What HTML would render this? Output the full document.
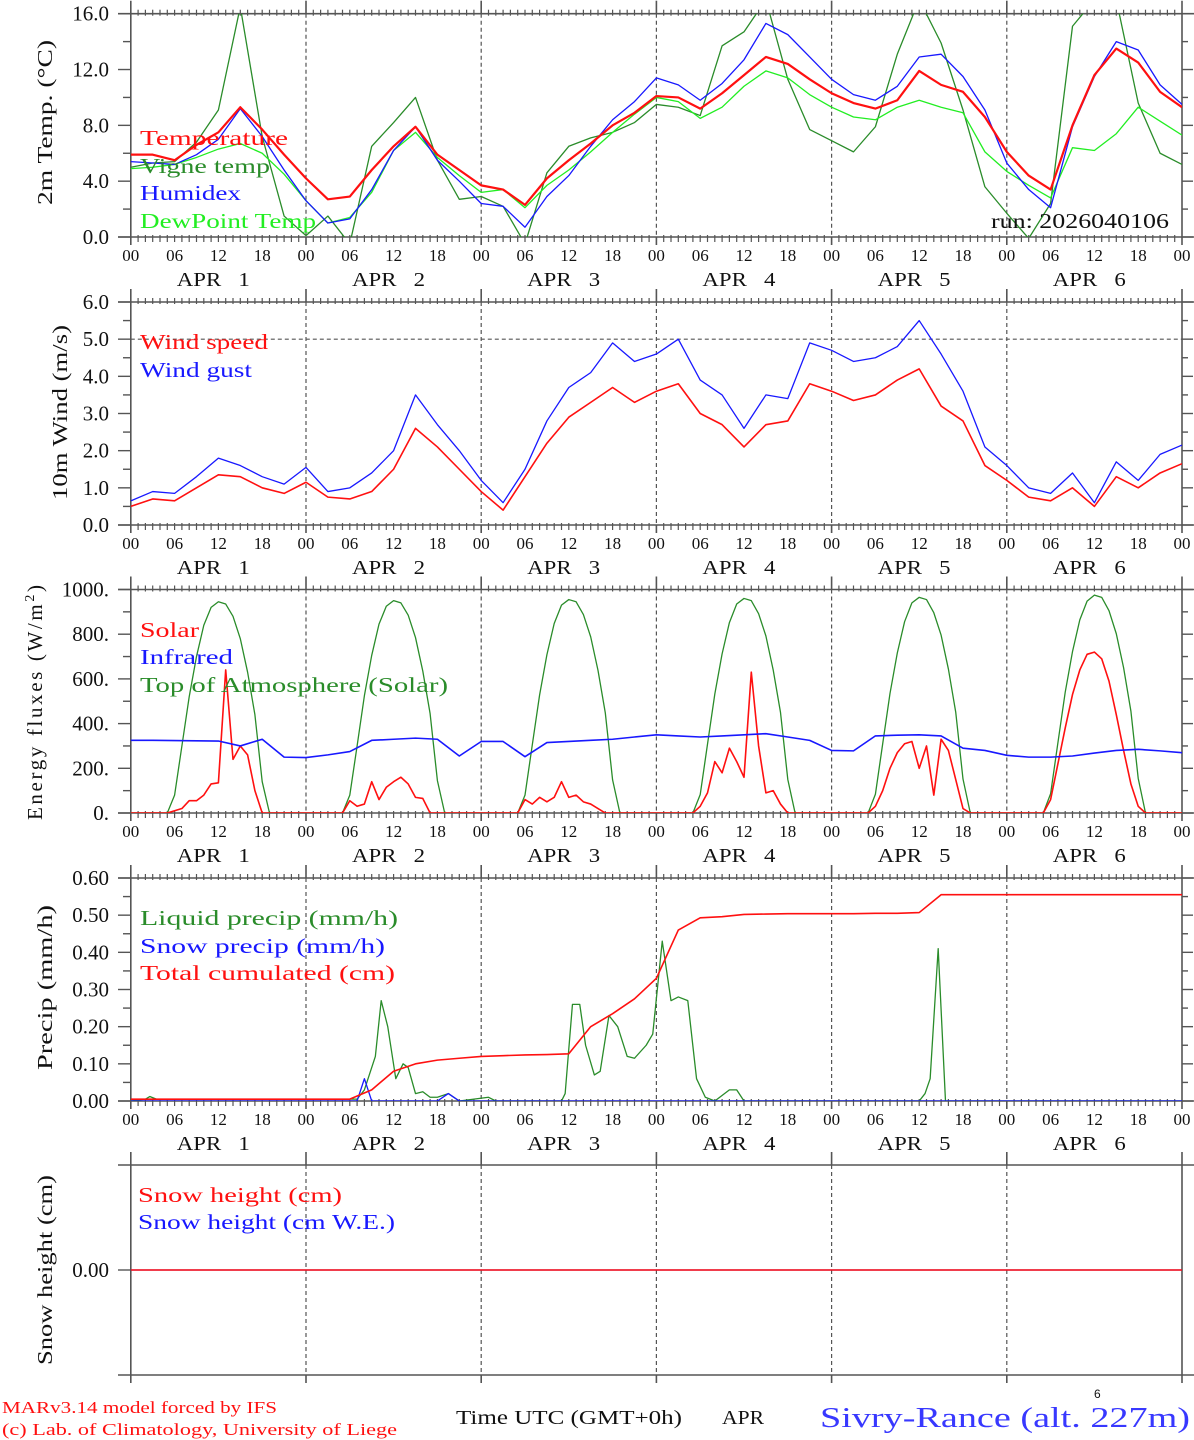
<!DOCTYPE html>
<html><head><meta charset="utf-8"><style>
html,body{margin:0;padding:0;background:#fff;}
svg{display:block;font-family:"Liberation Serif",serif;}
text{white-space:pre;}
</style></head><body>
<svg id="chart" width="1194" height="1440" viewBox="0 0 1194 1440" xmlns="http://www.w3.org/2000/svg"></svg>
<script>
// ---------- DATA (3-hourly, hour 0 .. 144) ----------
const tempVals = [5.9,5.9,5.5,6.6,7.5,9.3,7.7,5.9,4.2,2.7,2.9,4.8,6.5,7.9,5.9,4.8,3.7,3.4,2.3,4.2,5.5,6.7,8.0,8.9,10.1,10.0,9.2,10.3,11.6,12.9,12.4,11.3,10.3,9.6,9.2,9.8,11.9,10.9,10.4,8.6,6.1,4.4,3.4,8.0,11.6,13.5,12.5,10.4,9.3];
const vigneVals = [5.0,5.3,5.4,6.8,9.1,16.5,7.2,1.5,0.1,1.5,-0.5,6.5,8.2,10.0,5.5,2.7,2.9,2.2,-0.5,4.6,6.5,7.1,7.5,8.2,9.5,9.3,8.7,13.7,14.7,17.0,11.3,7.7,6.9,6.1,7.9,13.1,17.0,13.9,9.1,3.6,1.7,-0.1,2.4,15.1,17.0,17.0,9.6,6.0,5.2];
const humidexVals = [5.4,5.3,5.2,5.9,7.0,9.2,7.2,4.8,2.6,1.0,1.3,3.4,6.2,7.9,5.5,4.0,2.4,2.2,0.7,2.9,4.4,6.5,8.4,9.7,11.4,10.9,9.8,11.0,12.7,15.3,14.5,12.9,11.3,10.2,9.8,10.8,12.9,13.1,11.5,9.1,5.3,3.4,2.1,7.9,11.5,14.0,13.4,10.9,9.5];
const dewVals = [4.9,5.0,5.2,5.7,6.3,6.7,6.0,4.5,2.6,1.0,1.4,3.2,6.2,7.5,5.7,4.4,3.2,3.4,2.1,3.7,4.8,6.1,7.5,8.8,10.0,9.7,8.5,9.3,10.8,11.9,11.4,10.2,9.3,8.6,8.4,9.3,9.8,9.3,8.9,6.1,4.7,3.7,2.8,6.4,6.2,7.4,9.3,8.3,7.3];
const windSpeedVals = [0.5,0.7,0.65,1.0,1.35,1.3,1.0,0.85,1.15,0.75,0.7,0.9,1.5,2.6,2.1,1.5,0.9,0.4,1.3,2.2,2.9,3.3,3.7,3.3,3.6,3.8,3.0,2.7,2.1,2.7,2.8,3.8,3.6,3.35,3.5,3.9,4.2,3.2,2.8,1.6,1.2,0.75,0.65,1.0,0.5,1.3,1.0,1.4,1.65];
const windGustVals = [0.65,0.9,0.85,1.3,1.8,1.6,1.3,1.1,1.55,0.9,1.0,1.4,2.0,3.5,2.7,2.0,1.2,0.6,1.5,2.8,3.7,4.1,4.9,4.4,4.6,5.0,3.9,3.5,2.6,3.5,3.4,4.9,4.7,4.4,4.5,4.8,5.5,4.6,3.6,2.1,1.6,1.0,0.85,1.4,0.6,1.7,1.2,1.9,2.15];
const infraredVals = [325,325,324,323,322,300,330,250,248,260,275,325,330,335,330,255,320,320,252,315,320,325,330,340,350,345,340,345,350,355,340,325,280,278,345,348,350,345,290,280,258,250,250,255,268,280,285,278,270];
const totalCumVals = [0.005,0.005,0.005,0.005,0.005,0.005,0.005,0.005,0.005,0.005,0.005,0.03,0.08,0.1,0.11,0.115,0.12,0.122,0.124,0.125,0.127,0.2,0.235,0.275,0.33,0.46,0.493,0.496,0.502,0.503,0.504,0.504,0.504,0.504,0.505,0.505,0.507,0.555,0.555,0.555,0.555,0.555,0.555,0.555,0.555,0.555,0.555,0.555,0.555];
// ---------- DATA (hourly daytime 05..19 for each day) ----------
const toaDay1 = [0,80,300,520,700,840,920,945,935,880,780,630,440,140,0];
const toaDay2 = [0,80,300,525,705,845,925,950,940,885,785,635,445,145,0];
const toaDay3 = [0,80,305,528,708,848,930,955,945,888,788,638,448,148,0];
const toaDay4 = [0,82,308,532,712,852,935,960,950,892,792,640,450,150,0];
const toaDay5 = [0,84,310,535,716,856,940,965,955,896,796,644,452,152,0];
const toaDay6 = [0,86,314,540,722,864,948,975,965,905,802,650,456,155,0];
const solarDay1 = [0,10,20,55,55,80,130,135,640,240,300,260,100,0,0];
const solarDay2 = [0,55,30,40,140,60,115,140,160,130,70,65,0,0,0];
const solarDay3 = [0,60,40,70,50,70,140,70,80,50,40,20,0,0,0];
const solarDay4 = [0,30,90,230,180,290,230,160,630,300,90,100,40,0,0];
const solarDay5 = [0,30,100,200,270,310,320,200,300,80,330,280,150,20,0];
const solarDay6 = [0,60,220,380,530,640,710,720,690,590,440,280,130,30,0];
// ---------- DATA (irregular points) ----------
const liquidHours = [0,2,2.6,3.5,5,31,32,33.5,34.3,35.2,36.3,37.3,38,39,40,41,42,43.5,45,49,50,59,59.5,60.5,61.5,62.3,63.5,64.3,65.5,66.7,68,69,70.6,71.5,72.8,74,75,76.3,77.5,78.7,80,82,83,84,85,108,108.8,109.5,110.6,111.6,144];
const liquidVals = [0,0.005,0.012,0.005,0.005,0.005,0.03,0.12,0.27,0.2,0.06,0.1,0.09,0.02,0.025,0.01,0.01,0.02,0,0.01,0,0,0.02,0.26,0.26,0.15,0.07,0.08,0.23,0.2,0.12,0.115,0.15,0.18,0.43,0.27,0.28,0.27,0.06,0.01,0,0.03,0.03,0,0,0,0.02,0.06,0.41,0,0];
const snowPrecipHours = [0,31,32,33,42,43.5,45,144];
const snowPrecipVals = [0,0,0.06,0,0,0.02,0,0];
const snowHeightVals = [0,0];
const snowHeightHours = [0,144];
const hourTickLabels = ["00","06","12","18"];
const dayLabels = ["APR\u00a0\u00a0\u00a01","APR\u00a0\u00a0\u00a02","APR\u00a0\u00a0\u00a03","APR\u00a0\u00a0\u00a04","APR\u00a0\u00a0\u00a05","APR\u00a0\u00a0\u00a06"];

// ---------- helpers ----------
const NS = "http://www.w3.org/2000/svg";
const svg = document.getElementById('chart');
const X0 = 130.8, PXH = 7.3, XR = X0 + 144 * PXH;
function xs(h){ return X0 + h * PXH; }
function mk(tag, attrs, parent){
  const e = document.createElementNS(NS, tag);
  for (const k in attrs) e.setAttribute(k, attrs[k]);
  (parent || svg).appendChild(e);
  return e;
}
function line(x1,y1,x2,y2,stroke,w,dash,name){
  const e = mk('line',{x1:x1,y1:y1,x2:x2,y2:y2,stroke:stroke,'stroke-width':w});
  if (dash) e.setAttribute('stroke-dasharray', dash);
  
  
  return e;
}
function text(str,x,y,opts,name){
  const e = mk('text',{x:x,y:y,'font-size':opts.size||19,fill:opts.fill||'#111'});
  if (opts.anchor) e.setAttribute('text-anchor', opts.anchor);
  if (opts.len){ e.setAttribute('textLength', opts.len); e.setAttribute('lengthAdjust','spacingAndGlyphs'); }
  if (opts.family) e.setAttribute('font-family', opts.family);
  if (opts.rot) e.setAttribute('transform', 'rotate(-90 ' + x + ' ' + y + ')');
  e.textContent = str;
  
  
  return e;
}
function series3(vals){ return vals.map((v,i)=>[i*3, v]); }
function seriesXY(hs, vals){ return hs.map((h,i)=>[h, vals[i]]); }
function seriesDays(days, startHour){
  const pts = [[0,0]];
  days.forEach((d,di)=>{ d.forEach((v,j)=>{ pts.push([di*24 + startHour + j, v]); }); });
  pts.push([144,0]);
  return pts;
}
let clipId = 0;
function drawPanel(p){
  const yv = v => p.bot - (v - p.min) / (p.max - p.min) * (p.bot - p.top);
  p.yv = yv;
  line(118, p.top, 1194, p.top, '#555', 1.6, null, p.name + '-top-frame');
  line(118, p.bot, 1194, p.bot, '#555', 1.6, null, p.name + '-x-axis');
  line(X0, p.top - 13, X0, p.bot + 8, '#555', 1.6, null, p.name + '-y-axis');
  line(XR, p.top - 13, XR, p.bot + 8, '#555', 1.6, null, p.name + '-right-axis');
  for (let d = 1; d < 6; d++){
    const x = xs(d*24);
    line(x, p.top, x, p.bot, '#555', 1.2, '4 3', p.name + '-day-divider');
    line(x, p.top - 13, x, p.top, '#555', 1.6, null, p.name + '-day-tick-top');
    line(x, p.bot, x, p.bot + 8, '#555', 1.6, null, p.name + '-day-tick-bottom');
  }
  if (p.hourTicks){
    for (let h = 1; h < 144; h++){
      if (h % 24 === 0) continue;
      line(xs(h), p.top - 4, xs(h), p.top + 2, '#555', 1.2, null, p.name + '-hour-tick-top');
      line(xs(h), p.bot - 2, xs(h), p.bot + 5, '#555', 1.2, null, p.name + '-hour-tick-bottom');
    }
    for (let h = 0; h <= 144; h += 6){
      text(hourTickLabels[(h/6) % 4], xs(h), p.bot + 24, {size:17, anchor:'middle'}, p.name + '-hour-label');
    }
    for (let d = 0; d < 6; d++){
      text(dayLabels[d], xs(d*24) + 46, p.bot + 49, {size:20, len:73}, p.name + '-day-label');
    }
  }
  if (p.minor){
    const n = Math.round((p.max - p.min) / p.minor);
    for (let i = 0; i <= n; i++){
      const v = p.min + i * p.minor;
      const y = yv(v);
      const isMajor = Math.abs(v / p.major - Math.round(v / p.major)) < 1e-6;
      line(isMajor ? 118 : 123, y, X0, y, '#555', 1.4, null, p.name + '-y-tick');
      line(XR, y, isMajor ? 1193 : 1188, y, '#555', 1.4, null, p.name + '-y-tick-right');
      if (isMajor) text(p.fmt(v), 109, y + 7, {size:21, anchor:'end'}, p.name + '-y-tick-label');
    }
  }
  clipId++;
  const defs = mk('defs',{});
  const cp = mk('clipPath',{id:'clip'+clipId}, defs);
  mk('rect',{x:X0, y:p.top, width:XR-X0, height:p.bot-p.top}, cp);
  p.clip = 'url(#clip'+clipId+')';
  return p;
}
function drawSeries(p, pts, color, w, name){
  const d = pts.map((pt,i)=>(i?'L':'M') + xs(pt[0]).toFixed(2) + ' ' + p.yv(pt[1]).toFixed(2)).join(' ');
  const e = mk('path',{d:d, fill:'none', stroke:color, 'stroke-width':w, 'stroke-linejoin':'round', 'clip-path':p.clip});
  
  
  return e;
}

const RED = '#ff1010', BLUE = '#1818ff', DKG = '#2a8c2a', LTG = '#22ee22';

const pT = drawPanel({name:'temperature', top:13.7, bot:237, min:0, max:16, major:4, minor:2, hourTicks:true, fmt:v=>v.toFixed(1)});
drawSeries(pT, series3(vigneVals), DKG, 1.3, 'vigne-temp-line');
drawSeries(pT, series3(dewVals), LTG, 1.3, 'dewpoint-line');
drawSeries(pT, series3(humidexVals), BLUE, 1.3, 'humidex-line');
drawSeries(pT, series3(tempVals), RED, 2.2, 'temperature-line');
text('2m Temp. (°C)', 52, 205, {size:21, rot:true, len:165}, 'temperature-y-axis-title');
text('Temperature', 140, 145, {size:21, fill:RED, len:148}, 'legend-temperature');
text('Vigne temp', 140, 173, {size:21, fill:DKG, len:130}, 'legend-vigne-temp');
text('Humidex', 140, 200, {size:21, fill:BLUE, len:101}, 'legend-humidex');
text('DewPoint Temp', 140, 228, {size:21, fill:LTG, len:176}, 'legend-dewpoint');
text('run: 2026040106', 991, 228, {size:21, len:178}, 'run-label');

const pW = drawPanel({name:'wind', top:302, bot:525, min:0, max:6, major:1, minor:0.5, hourTicks:true, fmt:v=>v.toFixed(1)});
line(X0, pW.yv(5), XR, pW.yv(5), '#555', 1.1, '4 3', 'wind-5ms-reference-line');
drawSeries(pW, series3(windGustVals), BLUE, 1.3, 'wind-gust-line');
drawSeries(pW, series3(windSpeedVals), RED, 1.6, 'wind-speed-line');
text('10m Wind (m/s)', 67, 500, {size:21, rot:true, len:175}, 'wind-y-axis-title');
text('Wind speed', 140, 349, {size:21, fill:RED, len:128}, 'legend-wind-speed');
text('Wind gust', 140, 377, {size:21, fill:BLUE, len:112}, 'legend-wind-gust');

const pE = drawPanel({name:'energy', top:589.5, bot:813, min:0, max:1000, major:200, minor:100, hourTicks:true, fmt:v=>v.toFixed(0)+'.'});
drawSeries(pE, seriesDays([toaDay1,toaDay2,toaDay3,toaDay4,toaDay5,toaDay6], 5), DKG, 1.3, 'toa-solar-line');
drawSeries(pE, seriesDays([solarDay1,solarDay2,solarDay3,solarDay4,solarDay5,solarDay6], 5), RED, 1.6, 'solar-line');
drawSeries(pE, series3(infraredVals), BLUE, 1.6, 'infrared-line');
const et = text('', 42, 820, {size:21, rot:true}, 'energy-y-axis-title');
et.textContent = 'Energy fluxes (W/m';
const sup = mk('tspan',{dy:-8, 'font-size':14}, et); sup.textContent = '2';
const cl = mk('tspan',{dy:8}, et); cl.textContent = ')';
et.setAttribute('textLength', 235);
text('Solar', 140, 637, {size:21, fill:RED, len:59}, 'legend-solar');
text('Infrared', 140, 664, {size:21, fill:BLUE, len:93}, 'legend-infrared');
text('Top of Atmosphere (Solar)', 140, 692, {size:21, fill:DKG, len:308}, 'legend-toa');

const pP = drawPanel({name:'precip', top:878, bot:1101, min:0, max:0.6, major:0.1, minor:0.05, hourTicks:true, fmt:v=>v.toFixed(2)});
drawSeries(pP, seriesXY(liquidHours, liquidVals), DKG, 1.3, 'liquid-precip-line');
drawSeries(pP, seriesXY(snowPrecipHours, snowPrecipVals), BLUE, 1.3, 'snow-precip-line');
drawSeries(pP, series3(totalCumVals), RED, 1.6, 'total-cumulated-line');
text('Precip (mm/h)', 52, 1070, {size:21, rot:true, len:165}, 'precip-y-axis-title');
text('Liquid precip (mm/h)', 140, 925, {size:21, fill:DKG, len:258}, 'legend-liquid-precip');
text('Snow precip (mm/h)', 140, 953, {size:21, fill:BLUE, len:245}, 'legend-snow-precip');
text('Total cumulated (cm)', 140, 980, {size:21, fill:RED, len:255}, 'legend-total-cumulated');

const pS = drawPanel({name:'snow', top:1165, bot:1375, min:-1, max:1, hourTicks:false});
line(118, pS.yv(0), X0, pS.yv(0), '#555', 1.4, null, 'snow-y-tick');
text('0.00', 109, pS.yv(0) + 7, {size:21, anchor:'end'}, 'snow-y-tick-label');
drawSeries(pS, seriesXY(snowHeightHours, snowHeightVals), BLUE, 1.3, 'snow-height-we-line');
drawSeries(pS, seriesXY(snowHeightHours, snowHeightVals), RED, 1.6, 'snow-height-line');
text('Snow height (cm)', 52, 1365, {size:21, rot:true, len:190}, 'snow-y-axis-title');
text('Snow height (cm)', 138, 1202, {size:21, fill:RED, len:204}, 'legend-snow-height');
text('Snow height (cm W.E.)', 138, 1229, {size:21, fill:BLUE, len:257}, 'legend-snow-height-we');

text('MARv3.14 model forced by IFS', 2, 1413, {size:17, fill:RED, len:275}, 'model-credit');
text('(c) Lab. of Climatology, University of Liege', 2, 1435, {size:17, fill:RED, len:395}, 'lab-credit');
text('Time UTC (GMT+0h)', 456, 1424, {size:20, len:226}, 'x-axis-title');
text('APR', 722, 1424, {size:20, len:42}, 'month-label');
text('6', 1094, 1398, {size:12, family:'"Liberation Sans", sans-serif'}, 'small-6-label');
text('Sivry-Rance (alt. 227m)', 820, 1427, {size:28, fill:'#3838ff', len:370}, 'station-title');
</script>
</body></html>
